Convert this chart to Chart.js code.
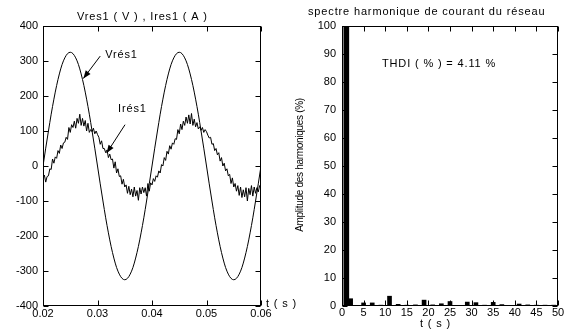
<!DOCTYPE html>
<html><head><meta charset="utf-8">
<script src="https://cdn.jsdelivr.net/npm/chart.js@4"></script>
<style>
html,body{margin:0;padding:0;background:#fff;overflow:hidden;width:569px;height:332px}
canvas{position:absolute;left:0;top:0}
</style></head>
<body>
<canvas id="c1" width="569" height="332"></canvas>
<canvas id="c2" width="569" height="332"></canvas>
<script>
// ---------- data ----------
const TIME_START = 0.02;
const V_STEP = 0.0005;
const I_STEP = 0.00025;

const vres1 = [
  0,51,100,148,191,230,263,290,309,321,325,321,309,290,263,230,191,148,100,51,
  0,-51,-100,-148,-191,-230,-263,-290,-309,-321,-325,-321,-309,-290,-263,-230,-191,-148,-100,-51,
  0,51,100,148,191,230,263,290,309,321,325,321,309,290,263,230,191,148,100,51,
  0,-51,-100,-148,-191,-230,-263,-290,-309,-321,-325,-321,-309,-290,-263,-230,-191,-148,-100,-51,
  0
];

const ires1 = [
  -34,-26,-46,-30,-28,-8,-10,20,8,26,22,
  44,36,60,50,66,68,82,76,110,96,
  118,110,128,108,136,122,148,116,136,114,
  130,100,122,96,104,98,108,92,100,90,
  82,62,72,50,50,38,46,24,34,18,
  20,-6,12,-20,-8,-30,-28,-52,-38,-60,
  -54,-78,-58,-82,-66,-88,-60,-86,-70,-98,
  -62,-80,-60,-76,-62,-86,-50,-72,-48,-54,
  -36,-44,-28,-32,-14,-20,4,0,24,16,
  42,34,58,48,66,62,78,76,104,92,
  120,104,128,116,140,122,146,120,150,116,
  134,112,124,106,112,102,110,96,104,98,
  88,80,82,62,64,44,50,32,38,14,
  24,0,8,-14,-8,-28,-24,-50,-34,-60,
  -50,-72,-56,-84,-60,-90,-68,-88,-62,-100,
  -64,-82,-56,-86,-60,-78,-62,-74,-56,-66
];

const harmonicOrders = [1,2,3,4,5,6,7,8,9,10,11,12,13,14,15,16,17,18,19,20,21,22,23,24,25,
  26,27,28,29,30,31,32,33,34,35,36,37,38,39,40,41,42,43,44,45,46,47,48,49,50];
const harmonicAmplitudes = [100,2.6,0.2,0.1,1.1,0.1,1.1,0.1,0.3,0.1,3.5,0.1,0.6,0.1,0.3,0.1,0.4,0.1,2.1,0.2,
  0.4,0.1,0.8,0.1,1.6,0.1,0.2,0.1,1.4,0.2,1.2,0.1,0.3,0.1,1.3,0.1,0.5,0.1,0.2,0.1,
  0.7,0.1,0.4,0.1,0.3,0.1,0.3,0.1,0.3,0.1];

const leftXTicks = [0.02,0.03,0.04,0.05,0.06];
const leftYTicks = [-400,-300,-200,-100,0,100,200,300,400];
const rightXTicks = [0,5,10,15,20,25,30,35,40,45,50];
const rightYTicks = [0,10,20,30,40,50,60,70,80,90,100];

const titleLeft = 'Vres1 ( V ) , Ires1 ( A )';
const titleRight = 'spectre harmonique de courant du réseau';
const thdiText = 'THDI ( % ) = 4.11 %';
const yLabelRight = 'Amplitude des harmoniques (%)';
const xLabel = 't ( s )';

// ---------- helpers ----------
const FONT = '"Liberation Sans", Arial, Helvetica, sans-serif';
Chart.defaults.font.family = FONT;
Chart.defaults.font.size = 11;
Chart.defaults.color = '#000';

function text(ctx, s, x, y, o) {
  o = o || {};
  ctx.save();
  ctx.font = (o.size || 11) + 'px ' + FONT;
  ctx.fillStyle = '#000';
  ctx.textAlign = o.align || 'left';
  ctx.textBaseline = o.base || 'alphabetic';
  if ('letterSpacing' in ctx) ctx.letterSpacing = (o.ls !== undefined ? o.ls : 0.85) + 'px';
  if (o.rot) { ctx.translate(x, y); ctx.rotate(o.rot); ctx.fillText(s, 0, 0); }
  else ctx.fillText(s, x, y);
  ctx.restore();
}
function arrow(ctx, x1, y1, x2, y2) {
  ctx.save();
  ctx.strokeStyle = '#000'; ctx.fillStyle = '#000'; ctx.lineWidth = 1;
  ctx.beginPath(); ctx.moveTo(x1, y1); ctx.lineTo(x2, y2); ctx.stroke();
  const a = Math.atan2(y2 - y1, x2 - x1), L = 8, W = 3;
  ctx.beginPath();
  ctx.moveTo(x2, y2);
  ctx.lineTo(x2 - L * Math.cos(a) + W * Math.sin(a), y2 - L * Math.sin(a) - W * Math.cos(a));
  ctx.lineTo(x2 - L * Math.cos(a) - W * Math.sin(a), y2 - L * Math.sin(a) + W * Math.cos(a));
  ctx.closePath(); ctx.fill();
  ctx.restore();
}
function frame(chart) {
  const ctx = chart.ctx, a = chart.chartArea, xs = chart.scales.x, ys = chart.scales.y;
  const L = Math.round(a.left) + 0.5, R = Math.round(a.right) - 0.5;
  const T = Math.round(a.top) + 0.5, B = Math.round(a.bottom) - 0.5;
  ctx.save();
  ctx.strokeStyle = '#000'; ctx.lineWidth = 1;
  ctx.strokeRect(L, T, R - L, B - T);
  ctx.beginPath();
  xs.ticks.forEach(t => {
    const p = Math.round(xs.getPixelForValue(t.value)) + 0.5;
    ctx.moveTo(p, B); ctx.lineTo(p, B - 5);
    ctx.moveTo(p, T); ctx.lineTo(p, T + 5);
  });
  ys.ticks.forEach(t => {
    const p = Math.round(ys.getPixelForValue(t.value)) + 0.5;
    ctx.moveTo(L, p); ctx.lineTo(L + 5, p);
    ctx.moveTo(R, p); ctx.lineTo(R - 5, p);
  });
  ctx.stroke();
  ctx.restore();
}
function setTicks(arr) { return s => { s.ticks = arr.map(v => ({ value: v })); }; }

// ---------- left chart ----------
const vPoints = vres1.map((v, i) => ({ x: TIME_START + i * V_STEP, y: v }));
const iPoints = ires1.map((v, i) => ({ x: TIME_START + i * I_STEP, y: v }));

new Chart(document.getElementById('c1'), {
  type: 'line',
  data: { datasets: [
    { data: vPoints, borderColor: '#000', borderWidth: 1, pointRadius: 0, cubicInterpolationMode: 'monotone', fill: false },
    { data: iPoints, borderColor: '#000', borderWidth: 1, pointRadius: 0, tension: 0, fill: false }
  ]},
  options: {
    responsive: false, animation: false, devicePixelRatio: 1,
    layout: { padding: { left: 0, top: 26, right: 308, bottom: 0 } },
    plugins: { legend: { display: false }, tooltip: { enabled: false } },
    scales: {
      x: { type: 'linear', min: 0.02, max: 0.06, afterBuildTicks: setTicks(leftXTicks),
           afterFit: s => { s.height = 26; },
           grid: { display: false, drawTicks: false }, border: { display: false },
           ticks: { padding: 1, maxRotation: 0, autoSkip: false, callback: v => v.toFixed(2) } },
      y: { type: 'linear', min: -400, max: 400, afterBuildTicks: setTicks(leftYTicks),
           afterFit: s => { s.width = 43; },
           grid: { display: false, drawTicks: false }, border: { display: false },
           ticks: { padding: 5, autoSkip: false, callback: v => String(v) } }
    }
  },
  plugins: [{
    id: 'deco1',
    afterDraw(chart) {
      const ctx = chart.ctx, xs = chart.scales.x, ys = chart.scales.y, a = chart.chartArea;
      frame(chart);
      text(ctx, titleLeft, 77, 20);
      // Vrés1 annotation
      text(ctx, 'Vrés1', xs.getPixelForValue(0.0314), ys.getPixelForValue(310));
      arrow(ctx, xs.getPixelForValue(0.0305), ys.getPixelForValue(314), xs.getPixelForValue(0.0274), ys.getPixelForValue(250));
      // Irés1 annotation
      text(ctx, 'Irés1', xs.getPixelForValue(0.03376), ys.getPixelForValue(155));
      arrow(ctx, xs.getPixelForValue(0.03505), ys.getPixelForValue(118), xs.getPixelForValue(0.03169), ys.getPixelForValue(37));
      text(ctx, xLabel, a.right + 5, a.bottom + 1);
    }
  }]
});

// ---------- right chart ----------
const fundamental = [{ x: harmonicOrders[0], y: harmonicAmplitudes[0] }];
const others = harmonicOrders.slice(1).map((h, i) => ({ x: h, y: harmonicAmplitudes[i + 1] }));

new Chart(document.getElementById('c2'), {
  type: 'bar',
  data: { datasets: [
    { data: fundamental, backgroundColor: '#000', borderWidth: 0, barThickness: 5, grouped: false },
    { data: others, backgroundColor: '#000', borderWidth: 0, barThickness: 4, grouped: false }
  ]},
  options: {
    responsive: false, animation: false, devicePixelRatio: 1,
    layout: { padding: { left: 300, top: 26, right: 11, bottom: 0 } },
    plugins: { legend: { display: false }, tooltip: { enabled: false } },
    scales: {
      x: { type: 'linear', min: 0, max: 50, offset: false, afterBuildTicks: setTicks(rightXTicks),
           afterFit: s => { s.height = 26; },
           grid: { display: false, drawTicks: false }, border: { display: false },
           ticks: { padding: 0, maxRotation: 0, autoSkip: false, callback: v => String(v) } },
      y: { type: 'linear', min: 0, max: 100, afterBuildTicks: setTicks(rightYTicks),
           afterFit: s => { s.width = 42; },
           grid: { display: false, drawTicks: false }, border: { display: false },
           ticks: { padding: 6, autoSkip: false, callback: v => String(v) } }
    }
  },
  plugins: [{
    id: 'deco2',
    afterDraw(chart) {
      const ctx = chart.ctx, xs = chart.scales.x, ys = chart.scales.y, a = chart.chartArea;
      frame(chart);
      text(ctx, titleRight, 308, 15);
      text(ctx, thdiText, xs.getPixelForValue(9.26), ys.getPixelForValue(85.4));
      text(ctx, xLabel, 420, 327);
      text(ctx, yLabelRight, 300, 165, { size: 10, ls: -0.3, align: 'center', base: 'middle', rot: -Math.PI / 2 });
    }
  }]
});
</script>
</body></html>
